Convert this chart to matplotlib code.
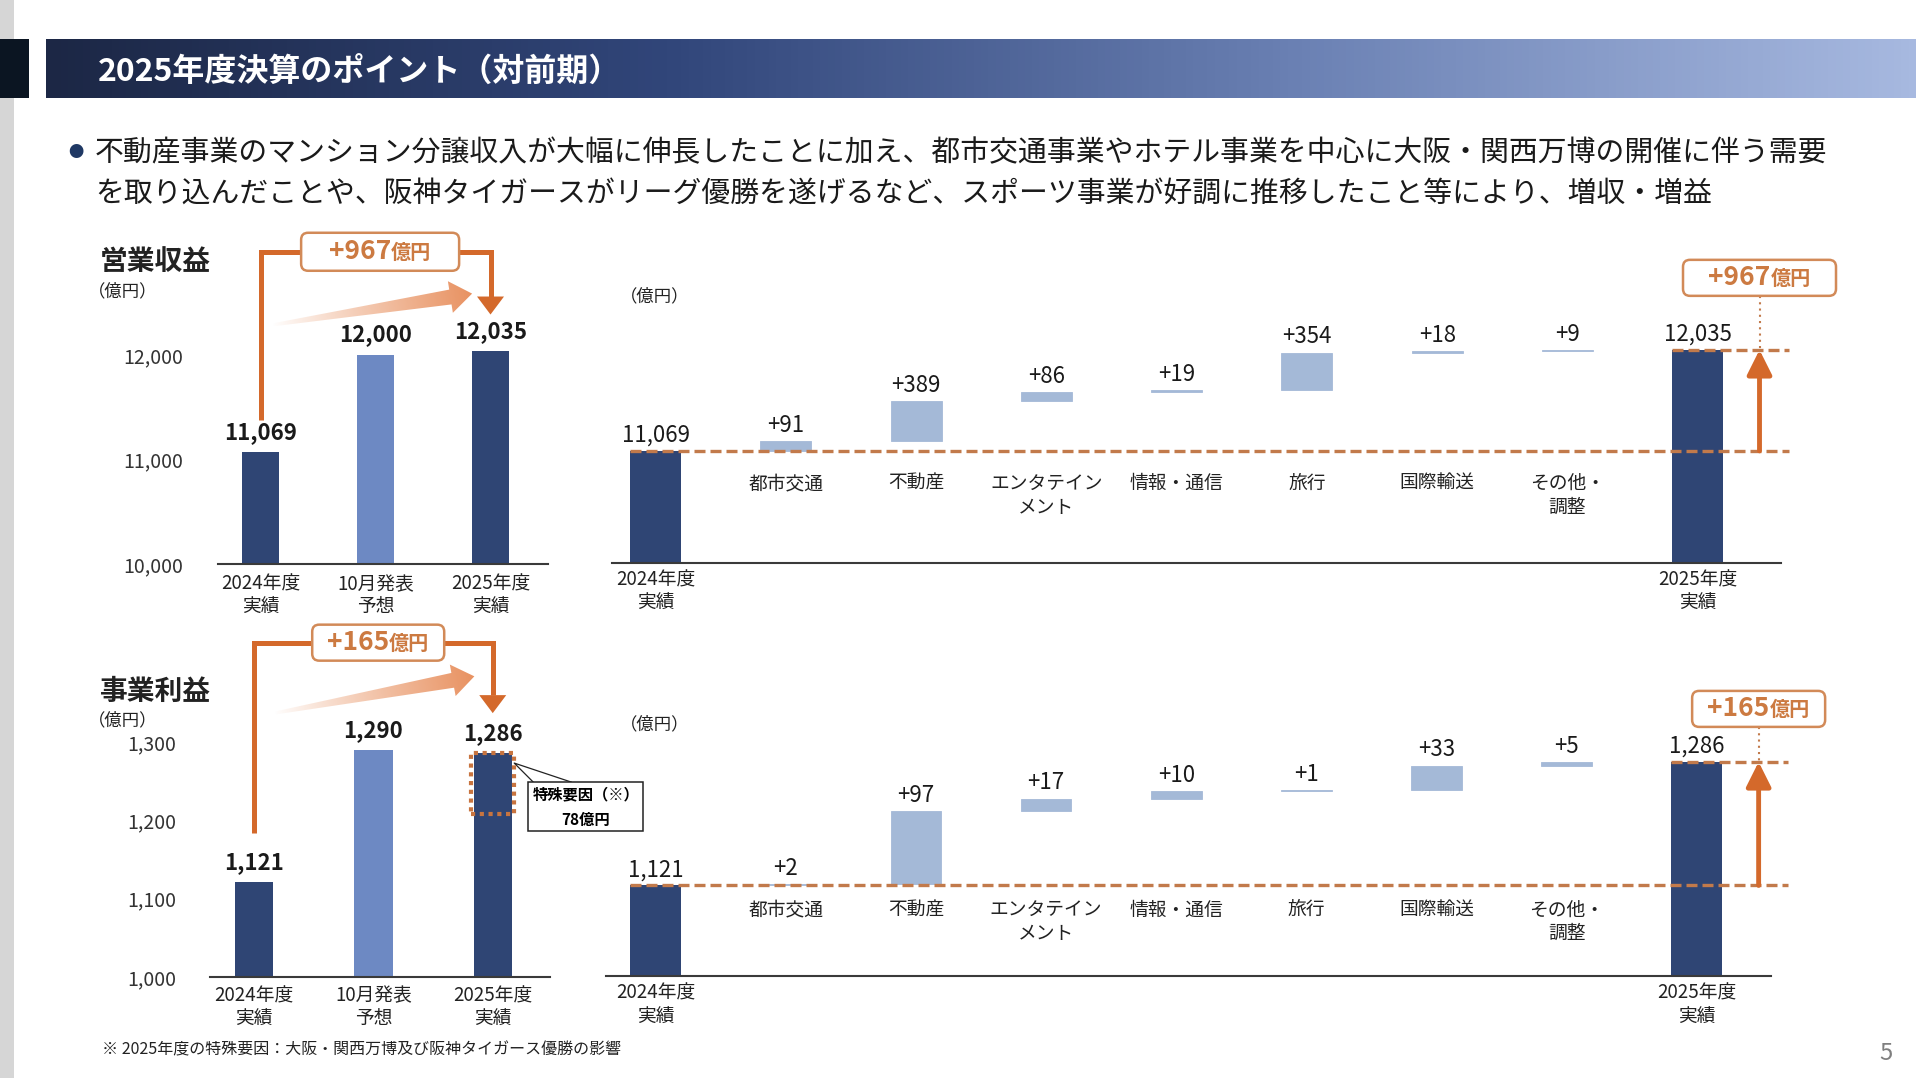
import matplotlib
matplotlib.use("Agg")
import matplotlib.pyplot as plt
import numpy as np
from matplotlib.patches import Rectangle, FancyBboxPatch, Polygon
from matplotlib.offsetbox import TextArea, HPacker, AnnotationBbox
from matplotlib.colors import LinearSegmentedColormap

plt.rcParams['font.family'] = ['Noto Sans CJK JP', 'DejaVu Sans']

# ---- data (億円) ----
title = "2025年度決算のポイント（対前期）"
summary = [
    "不動産事業のマンション分譲収入が大幅に伸長したことに加え、都市交通事業やホテル事業を中心に大阪・関西万博の開催に伴う需要",
    "を取り込んだことや、阪神タイガースがリーグ優勝を遂げるなど、スポーツ事業が好調に推移したこと等により、増収・増益",
]
period_labels = ["2024年度\n実績", "10月発表\n予想", "2025年度\n実績"]
revenue = [11069, 12000, 12035]
profit = [1121, 1290, 1286]
revenue_ticks = [10000, 11000, 12000]
profit_ticks = [1000, 1100, 1200, 1300]
segments = ["都市交通", "不動産", "エンタテイン\nメント", "情報・通信", "旅行", "国際輸送", "その他・\n調整"]
revenue_delta = [91, 389, 86, 19, 354, 18, 9]
profit_delta = [2, 97, 17, 10, 1, 33, 5]
revenue_change = 967
profit_change = 165
special_factor = 78
footnote = "※ 2025年度の特殊要因：大阪・関西万博及び阪神タイガース優勝の影響"
page_no = "5"

# ---- style ----
W, H, DPI = 1918, 1078, 100
NAVY = "#2f4574"
FORECAST = "#6d89c3"
STEP = "#a4b9d7"
ORANGE = "#d4692b"
DASH = "#c27a4b"
BOX_EDGE = "#d28a58"
BOX_TEXT = "#cc7a41"
INK = "#1a1a1a"

fig = plt.figure(figsize=(W / DPI, H / DPI), dpi=DPI)
fig.patch.set_facecolor("white")
ov = fig.add_axes([0, 0, 1, 1], zorder=0)
ov.set_xlim(0, W)
ov.set_ylim(H, 0)
ov.set_autoscale_on(False)
ov.axis("off")


def panel(left, top, right, bottom):
    ax = fig.add_axes([left / W, 1 - bottom / H, (right - left) / W, (bottom - top) / H], zorder=1)
    ax.patch.set_alpha(0)
    for s in ("top", "right", "left"):
        ax.spines[s].set_visible(False)
    ax.spines["bottom"].set_color("#3a3a3a")
    ax.spines["bottom"].set_linewidth(1.5)
    ax.tick_params(length=0)
    return ax


def to_px(ax, x, y):
    return ov.transData.inverted().transform(ax.transData.transform((x, y)))


def value_box(cx, cy, w, h, big, small):
    ov.add_patch(FancyBboxPatch((cx - w / 2, cy - h / 2), w, h,
                                boxstyle="round,pad=0,rounding_size=7",
                                fc="white", ec=BOX_EDGE, lw=1.8, zorder=4))
    pack = HPacker(children=[
        TextArea(big, textprops=dict(fontsize=19, weight="bold", color=BOX_TEXT)),
        TextArea(small, textprops=dict(fontsize=14.5, weight="bold", color=BOX_TEXT))],
        align="baseline", pad=0, sep=0)
    ov.add_artist(AnnotationBbox(pack, (cx, cy), xycoords="data", frameon=False,
                                 box_alignment=(0.5, 0.5), zorder=5))


def grad_arrow(p0, p1):
    p0, p1 = np.asarray(p0, float), np.asarray(p1, float)
    d = p1 - p0
    L = np.hypot(*d)
    u = d / L
    n = np.array([-u[1], u[0]])
    hl, hw, bw0, bw1 = 22, 16, 1.5, 7.5
    base = p1 - u * hl
    pts = [p0 + n * bw0, base + n * bw1, base + n * hw, p1,
           base - n * hw, base - n * bw1, p0 - n * bw0]
    poly = Polygon(pts, closed=True, fc="none", ec="none")
    ov.add_patch(poly)
    xs = [p[0] for p in pts]
    ys = [p[1] for p in pts]
    gx, gy = np.meshgrid(np.linspace(min(xs), max(xs), 200), np.linspace(min(ys), max(ys), 100))
    t = np.clip(((gx - p0[0]) * u[0] + (gy - p0[1]) * u[1]) / L, 0, 1)
    img = np.zeros(gx.shape + (4,))
    img[..., 0], img[..., 1], img[..., 2] = 0.91, 0.57, 0.38
    img[..., 3] = t ** 0.9
    im = ov.imshow(img, extent=(min(xs), max(xs), max(ys), min(ys)), origin="upper",
                   aspect="auto", zorder=2, interpolation="bilinear")
    im.set_clip_path(poly)


# ---- header ----
ov.add_patch(Rectangle((0, 0), 14, H, color="#d6d6d6", lw=0))
ov.add_patch(Rectangle((0, 39), 29, 59, color="#0b1522", lw=0, zorder=2))
hdr = LinearSegmentedColormap.from_list("hdr", ["#1c2745", "#31467a", "#6a80b3", "#a7b9e0"])
ov.imshow(np.linspace(0, 1, 256)[None, :], cmap=hdr, extent=(46, 1916, 98, 39),
          aspect="auto", zorder=1)
ov.text(98, 73, title, color="white", fontsize=23, weight="bold", va="center")
ov.text(76, 153, "●", color="#1f3864", fontsize=11, va="center", ha="center")
ov.text(95, 153, summary[0], fontsize=20.75, va="center", color=INK)
ov.text(95, 194, summary[1], fontsize=20.75, va="center", color=INK)


# ---- left: comparison bars ----
def compare(ax, vals, ticks, ypad, xpad):
    x = np.arange(len(vals))
    ax.bar(x, vals, width=0.32, color=[NAVY, FORECAST, NAVY], zorder=2)
    ax.set_yticks(ticks, [f"{t:,}" for t in ticks], fontsize=14, color="#333333")
    ax.tick_params(axis="y", pad=ypad)
    ax.set_xticks(x, period_labels, fontsize=13.5, linespacing=1.1, color="#222222")
    ax.tick_params(axis="x", pad=xpad)
    for xi, v in zip(x, vals):
        ax.annotate(f"{v:,}", (xi, v), xytext=(0, 6), textcoords="offset points",
                    ha="center", va="bottom", fontsize=16, weight="bold", color=INK)


def bracket(ax, vals, rise, top, tip, change, box_w, box_h):
    x0, y0 = to_px(ax, 0, vals[0] + rise)
    _, yt = to_px(ax, 0, vals[2] + top)
    x2, ytip = to_px(ax, 2, vals[2] + tip)
    head = 18
    ov.plot([x0, x0, x2, x2], [y0, yt, yt, ytip - head], color=ORANGE, lw=3.6,
            solid_joinstyle="miter", solid_capstyle="butt", zorder=3)
    ov.add_patch(Polygon([[x2 - 13.5, ytip - head], [x2 + 13.5, ytip - head], [x2, ytip]],
                         color=ORANGE, lw=0, zorder=3))
    cx, _ = to_px(ax, 1.04, 0)
    value_box(cx, yt, box_w, box_h, f"+{change}", "億円")


ax_rev = panel(218, 220, 548, 564)
ax_rev.set_xlim(-0.37, 2.5)
ax_rev.set_ylim(10000, 10000 + (564 - 220) / 0.1046)
compare(ax_rev, revenue, revenue_ticks, 25, 7)

ax_pro = panel(210, 650, 550, 977)
ax_pro.set_xlim(-0.37, 2.48)
ax_pro.set_ylim(1000, 1000 + (977 - 650) / 0.783)
compare(ax_pro, profit, profit_ticks, 24.5, 6)

ov.text(100, 262, "営業収益", fontsize=20, weight="bold", va="center", color="#222222")
ov.text(88, 291, "（億円）", fontsize=12.5, va="center", color="#222222")
ov.text(100, 692, "事業利益", fontsize=20, weight="bold", va="center", color="#222222")
ov.text(88, 720, "（億円）", fontsize=12.5, va="center", color="#222222")

bracket(ax_rev, revenue, 310, 950, 350, revenue_change, 158, 38)
grad_arrow(to_px(ax_rev, 0.1, revenue[2] + 250), to_px(ax_rev, 1.84, revenue[2] + 550))
bracket(ax_pro, profit, 63, 141, 51, profit_change, 132, 36)
grad_arrow(to_px(ax_pro, 0.17, profit[2] + 51), to_px(ax_pro, 1.846, profit[2] + 98))

# special factor inside 2025 profit bar
ax_pro.add_patch(Rectangle((2 - 0.18, profit[2] - special_factor), 0.36, special_factor,
                           fill=False, ec="#c8743f", lw=3, ls=(0, (1, 1.1)), zorder=3))
cx, cy = to_px(ax_pro, 2 + 0.18, profit[2])
cy += 10
bl, bt = cx + 14, cy + 19
ov.plot([bl + 5, cx, bl + 43], [bt, cy, bt], color="#222222", lw=0.9, zorder=3)
ov.add_patch(Rectangle((bl, bt), 115, 49, fc="white", ec="#222222", lw=1.1, zorder=4))
ov.text(bl + 57.5, bt + 12, "特殊要因（※）", fontsize=11, weight="bold", ha="center",
        va="center", zorder=5)
ov.text(bl + 57.5, bt + 38, f"{special_factor}億円", fontsize=11, weight="bold",
        ha="center", va="center", zorder=5)


# ---- right: waterfalls ----
def waterfall(ax, start, deltas, end, change, cat_off, box_w, box_gap):
    deltas = np.array(deltas)
    n = len(deltas)
    bottoms = start + np.cumsum(deltas) - deltas
    xs = np.arange(1, n + 1)
    ax.bar([0, n + 1], [start, end], width=0.39, color=NAVY, zorder=2)
    ax.bar(xs, deltas, bottom=bottoms, width=0.39, color=STEP, ec=STEP, lw=0.6, zorder=2)
    for xi, v in zip([0, n + 1], [start, end]):
        ax.annotate(f"{v:,}", (xi, v), xytext=(0, 3), textcoords="offset points",
                    ha="center", va="bottom", fontsize=16, color=INK)
    for xi, b, d, name in zip(xs, bottoms, deltas, segments):
        ax.annotate(f"+{d}", (xi, b + d), xytext=(0, 3), textcoords="offset points",
                    ha="center", va="bottom", fontsize=16, color=INK)
        ax.annotate(name, (xi, start), xytext=(0, -cat_off), textcoords="offset points",
                    ha="center", va="top", fontsize=13.5, linespacing=1.15, color="#222222")
    ax.set_xticks([0, n + 1], [period_labels[0], period_labels[2]], fontsize=13.5,
                  linespacing=1.1, color="#222222")
    ax.tick_params(axis="x", pad=5)
    ax.set_yticks([])
    dash = (0, (3.3, 1.5))
    ax.plot([-0.195, 8.70], [start, start], color=DASH, lw=2.4, ls=dash, clip_on=False, zorder=3)
    ax.plot([n + 1 - 0.195, 8.70], [end, end], color=DASH, lw=2.4, ls=dash, clip_on=False, zorder=3)
    ax.annotate("", xy=(8.475, end), xytext=(8.475, start),
                arrowprops=dict(arrowstyle="-|>,head_length=0.6,head_width=0.3", lw=3.5,
                                color=ORANGE, mutation_scale=25, shrinkA=0, shrinkB=0),
                annotation_clip=False, zorder=4)
    ax_x, ly = to_px(ax, 8.475, end)
    by = ly - box_gap
    ov.plot([ax_x, ax_x], [by, ly], color=DASH, lw=1.5, ls=(0, (1, 2)), zorder=3)
    value_box(ax_x, by - 18, box_w, 36, f"+{change}", "億円")


ax_wr = panel(611.6, 300, 1781, 562.7)
ax_wr.set_xlim(-0.338, 8.64)
ax_wr.set_ylim(10000, 10000 + (562.7 - 300) / 0.1046)
waterfall(ax_wr, revenue[0], revenue_delta, revenue[2], revenue_change, 16, 153, 54)

ax_wp = panel(605.5, 690, 1771, 976)
ax_wp.set_xlim(-0.385, 8.57)
ax_wp.set_ylim(1000, 1000 + (976 - 690) / 0.7486)
waterfall(ax_wp, profit[0], profit_delta, profit[2], profit_change, 10, 133, 35)

ov.text(620, 296, "（億円）", fontsize=12.5, va="center", color="#222222")
ov.text(620, 724, "（億円）", fontsize=12.5, va="center", color="#222222")

# ---- footer ----
ov.text(102, 1050, footnote, fontsize=11.5, va="center", color="#222222")
ov.text(1886, 1054, page_no, fontsize=17, va="center", ha="center", color="#7f7f7f")

fig.savefig("out.png", dpi=DPI)
